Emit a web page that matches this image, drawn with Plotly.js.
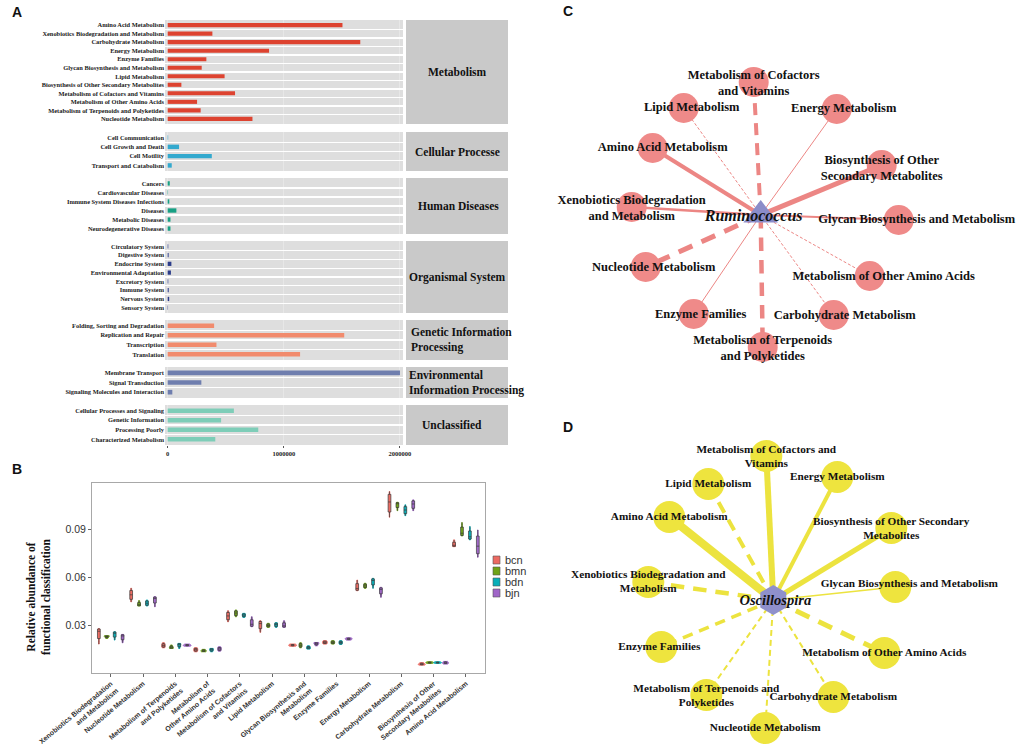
<!DOCTYPE html>
<html><head><meta charset="utf-8">
<script src="https://cdn.plot.ly/plotly-3.0.1.min.js"></script>
<style>html,body{margin:0;padding:0;background:#fff}#chart{width:1021px;height:753px}</style>
</head><body><div id="chart"></div>
<script>
// ================= DATA =================
// ---- Panel A: KEGG level-2 counts, grouped by level-1 facet ----
const facetNames = ['Metabolism','Cellular Processe','Human Diseases','Organismal System','Genetic Information<br>Processing','Environmental<br>Information Processing','Unclassified'];
const metabolismCats = ['Amino Acid Metabolism','Xenobiotics Biodegradation and Metabolism','Carbohydrate Metabolism','Energy Metabolism','Enzyme Families','Glycan Biosynthesis and Metabolism','Lipid Metabolism','Biosynthesis of Other Secondary Metabolites','Metabolism of Cofactors and Vitamins','Metabolism of Other Amino Acids','Metabolism of Terpenoids and Polyketides','Nucleotide Metabolism'];
const metabolismVals = [1505000, 385000, 1658000, 873000, 333000, 293000, 490000, 118000, 580000, 253000, 284000, 730000];
const cellularCats = ['Cell Communication','Cell Growth and Death','Cell Motility','Transport and Catabolism'];
const cellularVals = [4000, 98000, 380000, 35000];
const humanCats = ['Cancers','Cardiovascular Diseases','Immune System Diseases Infections','Diseases','Metabolic Diseases','Neurodegenerative Diseases'];
const humanVals = [18000, 3000, 14000, 75000, 24000, 24000];
const organismalCats = ['Circulatory System','Digestive System','Endocrine System','Environmental Adaptation','Excretory System','Immune System','Nervous System','Sensory System'];
const organismalVals = [5000, 8000, 32000, 28000, 5000, 9000, 13000, 3000];
const geneticCats = ['Folding, Sorting and Degradation','Replication and Repair','Transcription','Translation'];
const geneticVals = [400000, 1520000, 420000, 1140000];
const environmentalCats = ['Membrane Transport','Signal Transduction','Signaling Molecules and Interaction'];
const environmentalVals = [2000000, 290000, 40000];
const unclassifiedCats = ['Cellular Processes and Signaling','Genetic Information','Processing Poorly','Characterized Metabolism'];
const unclassifiedVals = [570000, 460000, 780000, 410000];
const xTickValsA = [0, 1000000, 2000000];

// ---- Panel B: relative abundance per sample (4 samples per group) ----
const violinCats = ['Xenobiotics Biodegradation<br>and Metabolism','Nucleotide Metabolism','Metabolism of Terpenoids<br>and Polyketides','Metabolism of<br>Other Amino Acids','Metabolism of Cofactors<br>and Vitamins','Lipid Metabolism','Glycan Biosynthesis and<br>Metabolism','Enzyme Families','Energy Metabolism','Carbohydrate Metabolism','Biosynthesis of Other<br>Secondary Metabolites','Amino Acid Metabolism'];
const groupNames = ['bcn','bmn','bdn','bjn'];
const bcnVals = [[0.0186,0.0255,0.0276,0.0283],[0.0449,0.0480,0.0505,0.0533],[0.0163,0.0172,0.0181,0.0194],[0.0138,0.0147,0.0155,0.0163],[0.0325,0.0350,0.0372,0.0393],[0.0259,0.0305,0.0322,0.0331],[0.0173,0.0177,0.0181,0.0186],[0.0186,0.0193,0.0200,0.0207],[0.0518,0.0524,0.0540,0.0584],[0.0975,0.1040,0.1100,0.1135],[0.0055,0.0058,0.0063,0.0070],[0.0792,0.0796,0.0805,0.0834]];
const bmnVals = [[0.0221,0.0233,0.0236,0.0238],[0.0423,0.0426,0.0432,0.0456],[0.0159,0.0161,0.0166,0.0180],[0.0138,0.0142,0.0146,0.0153],[0.0356,0.0372,0.0386,0.0398],[0.0290,0.0298,0.0305,0.0315],[0.0163,0.0174,0.0183,0.0194],[0.0186,0.0193,0.0200,0.0207],[0.0533,0.0543,0.0553,0.0564],[0.1016,0.1055,0.1063,0.1068],[0.0066,0.0069,0.0072,0.0076],[0.0858,0.0866,0.0885,0.0942]];
const bdnVals = [[0.0211,0.0248,0.0258,0.0263],[0.0423,0.0432,0.0448,0.0460],[0.0159,0.0180,0.0186,0.0190],[0.0138,0.0148,0.0155,0.0159],[0.0352,0.0362,0.0370,0.0377],[0.0290,0.0302,0.0312,0.0319],[0.0155,0.0160,0.0166,0.0175],[0.0184,0.0192,0.0199,0.0207],[0.0533,0.0575,0.0588,0.0595],[0.0985,0.1010,0.1030,0.1052],[0.0066,0.0069,0.0072,0.0076],[0.0834,0.0845,0.0862,0.0917]];
const bjnVals = [[0.0194,0.0232,0.0241,0.0246],[0.0418,0.0465,0.0475,0.0481],[0.0173,0.0177,0.0180,0.0186],[0.0142,0.0152,0.0160,0.0169],[0.0294,0.0300,0.0318,0.0356],[0.0290,0.0294,0.0305,0.0331],[0.0175,0.0188,0.0193,0.0196],[0.0211,0.0216,0.0221,0.0225],[0.0477,0.0520,0.0532,0.0539],[0.1016,0.1045,0.1070,0.1083],[0.0062,0.0067,0.0072,0.0078],[0.0726,0.0770,0.0820,0.0896]];
const yTickValsB = [0.03, 0.06, 0.09];

// ---- Panel C: Ruminococcus network (layout coords relative to hub) ----
const cHub = 'Ruminococcus';
const cNodeNames = ['Metabolism of Cofactors<br>and Vitamins','Lipid Metabolism','Energy Metabolism','Amino Acid Metabolism','Biosynthesis of Other<br>Secondary Metabolites','Xenobiotics Biodegradation<br>and Metabolism','Glycan Biosynthesis and Metabolism','Nucleotide Metabolism','Metabolism of Other Amino Acids','Enzyme Families','Carbohydrate Metabolism','Metabolism of Terpenoids<br>and Polyketides'];
const cNodeX = [-7, -77, 76, -108, 121, -129, 138, -115, 109, -67, 73, 2];
const cNodeY = [133, 107, 106, 67, 50, 8, -5, -52, -61, -99, -100, -132];
const cEdgeWeight = [4, 1, 1, 4, 5, 2.7, 2, 5, 1, 1, 1, 4.5];
const cEdgeSign = [-1, -1, 1, 1, 1, 1, 1, -1, -1, 1, -1, -1];

// ---- Panel D: Oscillospira network ----
const dHub = 'Oscillospira';
const dNodeNames = ['Metabolism of Cofactors and<br>Vitamins','Lipid Metabolism','Energy Metabolism','Amino Acid Metabolism','Biosynthesis of Other Secondary<br>Metabolites','Xenobiotics Biodegradation and<br>Metabolism','Glycan Biosynthesis and Metabolism','Enzyme Families','Metabolism of Other Amino Acids','Metabolism of Terpenoids and<br>Polyketides','Carbohydrate Metabolism','Nucleotide Metabolism'];
const dNodeX = [-7, -65, 64, -104, 118, -125, 122, -112, 111, -67, 60, -8];
const dNodeY = [144, 116, 123, 83, 72, 18, 13, -47, -53, -95, -97, -128];
const dEdgeWeight = [6, 4, 4, 8, 5, 4.5, 1.5, 3.5, 5, 2, 2, 2];
const dEdgeSign = [1, -1, 1, 1, 1, -1, 1, -1, -1, -1, -1, -1];

// ================= DRAWING =================
const W = 1021, H = 753;
const px = v => v / W, py = v => 1 - v / H;
const SERIF = 'Liberation Serif', SANS = 'Liberation Sans';
const traces = [];
const layout = {
  width: W, height: H, margin: {l: 0, r: 0, t: 0, b: 0},
  paper_bgcolor: 'white', plot_bgcolor: 'white', showlegend: false,
  font: {family: SERIF, color: '#111'},
  shapes: [], annotations: [],
  violinmode: 'group', violingap: 0.02, violingroupgap: 0
};

// ---- Panel A ----
const facetData = [
  {cats: metabolismCats, vals: metabolismVals, color: '#DD4330'},
  {cats: cellularCats, vals: cellularVals, color: '#33A9CE'},
  {cats: humanCats, vals: humanVals, color: '#17A084'},
  {cats: organismalCats, vals: organismalVals, color: '#2B3C8A'},
  {cats: geneticCats, vals: geneticVals, color: '#F18B6D'},
  {cats: environmentalCats, vals: environmentalVals, color: '#6F7EAE'},
  {cats: unclassifiedCats, vals: unclassifiedVals, color: '#7ECDB8'}
];
const facetBands = [[20,124],[132,171],[178,234],[241,313],[320,360],[367,398],[405,445]];
const stripText = [
  {x: 457, anchor: 'center'}, {x: 457, anchor: 'center'}, {x: 458, anchor: 'center'},
  {x: 457, anchor: 'center'}, {x: 409, anchor: 'left'}, {x: 407, anchor: 'left'}, {x: 452, anchor: 'center'}
];
facetData.forEach((f, i) => {
  const n = i + 1;
  const xa = n === 1 ? 'x' : 'x' + n, ya = n === 1 ? 'y' : 'y' + n;
  const xk = n === 1 ? 'xaxis' : 'xaxis' + n, yk = n === 1 ? 'yaxis' : 'yaxis' + n;
  const b = facetBands[i];
  traces.push({type: 'bar', orientation: 'h', x: f.vals, y: f.cats, xaxis: xa, yaxis: ya,
    marker: {color: f.color, line: {width: 0}}, width: 0.48, hoverinfo: 'x+y'});
  layout[xk] = {domain: [px(165), px(403)], range: [-23000, 2026000], anchor: ya,
    showgrid: true, gridcolor: '#E9E9E9', gridwidth: 0.8, zeroline: false,
    tickmode: 'array', tickvals: xTickValsA, tickformat: 'd', showticklabels: n === 7,
    ticks: n === 7 ? 'outside' : '', ticklen: 2, tickcolor: '#555',
    tickfont: {family: SERIF, size: 6.5, weight: 'bold', color: '#222'},
    showline: false, fixedrange: true, automargin: false};
  layout[yk] = {domain: [py(b[1]), py(b[0])], anchor: xa, type: 'category',
    categoryorder: 'array', categoryarray: f.cats, range: [f.cats.length - 0.4, -0.6],
    tickson: 'boundaries', showgrid: true, gridcolor: '#FFFFFF', gridwidth: 1.3,
    ticks: '', tickmode: 'linear', tick0: 0, dtick: 1,
    tickfont: {family: SERIF, size: 6.4, weight: 'bold', color: '#1a1a1a'},
    zeroline: false, showline: false, fixedrange: true, automargin: false};
  layout.shapes.push({type: 'rect', xref: xa + ' domain', yref: ya + ' domain', x0: 0, x1: 1, y0: 0, y1: 1,
    fillcolor: '#DEDEDE', line: {width: 0}, layer: 'below'});
  layout.shapes.push({type: 'rect', xref: 'paper', yref: 'paper', x0: px(406), x1: px(508),
    y0: py(b[1]), y1: py(b[0]), fillcolor: '#C9C9C9', line: {width: 0}, layer: 'below'});
  layout.annotations.push({xref: 'paper', yref: 'paper', x: px(stripText[i].x), y: py((b[0] + b[1]) / 2),
    xanchor: stripText[i].anchor, yanchor: 'middle', align: 'left', showarrow: false,
    text: '<b>' + facetNames[i] + '</b>', font: {family: SERIF, size: 11.5, color: '#111'}});
});

// ---- Panel B ----
const groupVals = [bcnVals, bmnVals, bdnVals, bjnVals];
const groupColors = ['#EC6A62', '#6FA316', '#08AEB8', '#A066C8'];
const hexA = (h, a) => {const r = parseInt(h.slice(1,3),16), g = parseInt(h.slice(3,5),16), bl = parseInt(h.slice(5,7),16); return `rgba(${r},${g},${bl},${a})`;};
groupNames.forEach((g, gi) => {
  const xs = [], ys = [];
  violinCats.forEach((c, ci) => groupVals[gi][ci].forEach(v => {xs.push(c); ys.push(v);}));
  traces.push({type: 'violin', name: g, x: xs, y: ys, xaxis: 'x8', yaxis: 'y8',
    fillcolor: hexA(groupColors[gi], 0.85), line: {color: groupColors[gi], width: 1},
    box: {visible: true, width: 0.35, fillcolor: hexA(groupColors[gi], 0.9), line: {color: '#3a3a3a', width: 0.7}},
    meanline: {visible: false}, points: false, spanmode: 'hard', scalemode: 'width', hoveron: 'violins'});
  const cy = 560 + gi * 11;
  layout.shapes.push({type: 'rect', xref: 'paper', yref: 'paper', x0: px(493), x1: px(500), y0: py(cy + 4), y1: py(cy - 4),
    fillcolor: groupColors[gi], line: {color: '#555', width: 0.6}});
  layout.annotations.push({xref: 'paper', yref: 'paper', x: px(503), y: py(cy), xanchor: 'left', yanchor: 'middle',
    showarrow: false, text: g, font: {family: SANS, size: 11, color: '#333'}});
});
layout.xaxis8 = {domain: [px(92), px(485)], anchor: 'y8', type: 'category', categoryorder: 'array', categoryarray: violinCats,
  range: [-0.58, 11.59], showline: true, mirror: true, linecolor: '#A8A8A8', linewidth: 1, showgrid: false, zeroline: false,
  ticks: 'outside', ticklen: 3, tickcolor: '#666', tickangle: -40,
  tickfont: {family: SANS, size: 7, weight: 'bold', color: '#333'}, fixedrange: true, automargin: false};
layout.yaxis8 = {domain: [py(673), py(483)], anchor: 'x8', range: [0.0006, 0.1188],
  showline: true, mirror: true, linecolor: '#A8A8A8', linewidth: 1, showgrid: false, zeroline: false,
  tickmode: 'array', tickvals: yTickValsB, tickformat: '.2f', ticks: 'outside', ticklen: 3, tickcolor: '#666',
  tickfont: {family: SANS, size: 10.5, color: '#333'}, fixedrange: true, automargin: false};
layout.annotations.push({xref: 'paper', yref: 'paper', x: px(38), y: py(597), textangle: -90, showarrow: false,
  xanchor: 'center', yanchor: 'middle', align: 'center',
  text: '<b>Relative abundance of<br>functional classification</b>', font: {family: SERIF, size: 11.5, color: '#111'}});

// ---- Panels C & D (networks) ----
function network(ax, ay, names, nx, ny, w, sgn, nodeColor, edgeColor, nodeSize, labelSize, shiftX, shiftY, hub, hubSymbol, hubSize, hubColor, hubFont, hubShift) {
  names.forEach((nm, i) => {
    const dash = sgn[i] > 0 ? 'solid' : `${Math.max(3, 3 * w[i])}px,${Math.max(2, 2 * w[i])}px`;
    traces.push({type: 'scatter', mode: 'lines', x: [0, nx[i]], y: [0, ny[i]], xaxis: ax, yaxis: ay,
      line: {color: edgeColor, width: w[i], dash: dash}, hoverinfo: 'skip', cliponaxis: false});
  });
  traces.push({type: 'scatter', mode: 'markers', x: nx, y: ny, xaxis: ax, yaxis: ay, text: names, hoverinfo: 'text',
    marker: {size: nodeSize, color: nodeColor, line: {width: 0}}, cliponaxis: false});
  traces.push({type: 'scatter', mode: 'markers', x: [0], y: [0], xaxis: ax, yaxis: ay, hoverinfo: 'skip',
    marker: {size: hubSize, color: hubColor, symbol: hubSymbol, line: {width: 0}}, cliponaxis: false});
  traces.push({type: 'scatter', mode: 'text', x: nx.map((v, i) => v + shiftX[i]), y: ny.map((v, i) => v + shiftY[i]),
    xaxis: ax, yaxis: ay, text: names.map(t => '<b>' + t + '</b>'), textposition: 'middle center', hoverinfo: 'skip',
    textfont: {family: SERIF, size: labelSize, color: '#111'}, cliponaxis: false});
  traces.push({type: 'scatter', mode: 'text', x: [hubShift[0]], y: [hubShift[1]], xaxis: ax, yaxis: ay,
    text: ['<b><i>' + hub + '</i></b>'], textposition: 'middle center', hoverinfo: 'skip',
    textfont: {family: SERIF, size: hubFont, color: '#111'}, cliponaxis: false});
}
network('x9', 'y9', cNodeNames, cNodeX, cNodeY, cEdgeWeight, cEdgeSign, '#EF8A89', '#EC8684', 30, 12.5,
  [0, 8, 7, 10, 0, 0, 18, 8, 14, 7, 11, 0], [-2, 0, 0, 0, -4, -2, 0, -1, -1, -1, -1, -2],
  cHub, 'triangle-up', 30, '#8B8CC9', 16, [-7, -2]);
network('x10', 'y10', dNodeNames, dNodeX, dNodeY, dEdgeWeight, dEdgeSign, '#EEE43E', '#ECE33F', 32, 11.25,
  [0, 0, 0, 0, 0, 0, 14, -2, 0, 0, 0, 0], [-1, 0, 0, 0, -1, 0, 3, 0, 0, -1, 0, 0],
  dHub, 'hexagon', 30, '#8F90CB', 14.5, [2, -1]);
layout.xaxis9 = {domain: [px(520), 1], anchor: 'y9', range: [-240.7, 260.3], visible: false, fixedrange: true};
layout.yaxis9 = {domain: [py(380), 1], anchor: 'x9', range: [-165, 215], visible: false, fixedrange: true};
layout.xaxis10 = {domain: [px(520), 1], anchor: 'y10', range: [-253.3, 247.7], visible: false, fixedrange: true};
layout.yaxis10 = {domain: [0, py(380)], anchor: 'x10', range: [-153, 220], visible: false, fixedrange: true};

// ---- Panel letters ----
[['A', 17, 12], ['B', 17, 469], ['C', 568, 11], ['D', 568, 427]].forEach(([t, x, y]) => {
  layout.annotations.push({xref: 'paper', yref: 'paper', x: px(x), y: py(y), xanchor: 'center', yanchor: 'middle',
    showarrow: false, text: '<b>' + t + '</b>', font: {family: SANS, size: 14, color: '#111'}});
});

Plotly.newPlot('chart', traces, layout, {displayModeBar: false, staticPlot: true});
</script>
</body></html>
